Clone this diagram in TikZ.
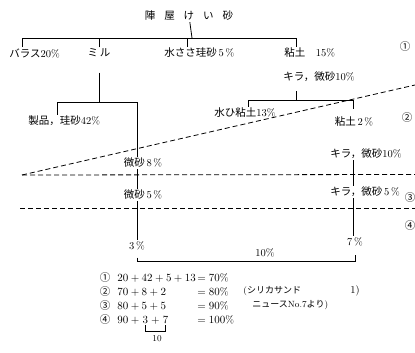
\documentclass[tikz,border=0pt]{standalone}
\usepackage{fontspec}
\usepackage{tikz}
\usetikzlibrary{positioning}
\newfontfamily\jp{Noto Sans CJK JP}

\begin{document}
\begin{tikzpicture}[x=1pt,y=-1pt,line width=0.8pt,
          lbl/.style={inner sep=1pt,font=\fontsize{10.5}{12}\selectfont},
          eq/.style={inner sep=0pt,font=\fontsize{10.5}{12}\selectfont},
          note/.style={inner sep=0pt,align=left,font=\fontsize{9}{14}\selectfont},
          cut/.style={line width=0.8pt,dash pattern=on 5pt off 3pt}]
        \useasboundingbox (0,0) rectangle (415,353);
        \node[lbl](ttl) at (189,16)
          {{\jp 陣\hspace{9pt}屋\hspace{9pt}け\hspace{9pt}い\hspace{9pt}砂}};
        \node[lbl,anchor=west](bal) at (8,53) {{\jp バラス}20\%};
        \node[lbl](mil) at (99,53) {{\jp ミ\,ル}};
        \node[lbl,anchor=west](sui) at (163,53) {{\jp 水ささ珪砂}\,5\,\%};
        \node[lbl,anchor=west](nen) at (283,53) {{\jp 粘土}\quad 15\%};
        \coordinate(t0) at (192,38);
        \coordinate(tl) at (22,38);
        \coordinate(t3) at (187,38);
        \coordinate(tr) at (296,38);
        \draw(ttl)--(t0);
        \draw(bal.north-|tl)--(tl)--(tr)--(nen.north-|tr);
        \draw(mil.north)--(mil.north|-t0);
        \draw(t3)--(sui.north-|t3);
        % mill branch
        \node[lbl,anchor=west](sei) at (27,121) {{\jp 製品，珪砂}42\%};
        \node[lbl](b8) at (143,163) {{\jp 微砂}\,8\,\%};
        \node[lbl](b5) at (143,195) {{\jp 微砂}\,5\,\%};
        \node[lbl](p3) at (137,246) {3\,\%};
        \coordinate(m0) at (99,102);
        \coordinate(ml) at (57,102);
        \coordinate(mr) at (137,102);
        \draw[shorten <=14pt](mil.south)--(m0);
        \draw(sei.north-|ml)--(ml)--(mr)--(b8.north-|mr);
        \draw(b8.south-|mr)--(b5.north-|mr);
        \draw(b5.south-|mr)--(p3.north-|mr);
        % clay branch
        \node[lbl,anchor=west](kr) at (282,77) {{\jp キラ，微砂}10\%};
        \node[lbl,anchor=west](sh) at (213,113) {{\jp 水ひ粘土}13\%};
        \node[lbl](n2) at (354,122) {{\jp 粘土}\,2\,\%};
        \node[lbl,anchor=west](k10) at (329,154) {{\jp キラ，微砂}10\%};
        \node[lbl,anchor=west](k5) at (329,192) {{\jp キラ，微砂}\,5\,\%};
        \node[lbl](p7) at (355,242) {7\,\%};
        \coordinate(r0) at (296,100);
        \coordinate(rl) at (248,100);
        \coordinate(rr) at (353,100);
        \draw[shorten <=8pt](kr.south-|r0)--(r0);
        \draw[shorten >=7pt](sh.north-|rl)--(rl)--(rr)--(n2.north-|rr);
        \draw(k10.south-|rr)--(k5.north-|rr);
        \draw(k5.south-|rr)--(p7.north-|rr);
        \coordinate(q1) at (137,261);
        \coordinate(q2) at (355,261);
        \draw[shorten <=6pt,shorten >=7pt](p3.south-|q1)--(q1)--(q2)--(p7.south-|q2);
        \node[lbl](s10) at (265,253) {10\%};
        % stage lines
        \coordinate(d0) at (22,175);
        \coordinate(d1) at (415,85);
        \coordinate(d2) at (415,174.5);
        \coordinate(d3) at (20,208.5);
        \coordinate(d4) at (415,208.5);
        \draw[cut](d0)--(d1);
        \draw[cut](d0)--(d2);
        \draw[cut](d3)--(d4);
        \node[lbl](c1) at (405,47) {{\jp ①}};
        \node[lbl](c2) at (407,118) {{\jp ②}};
        \node[lbl](c3) at (410,198) {{\jp ③}};
        \node[lbl](c4) at (410,226) {{\jp ④}};
        % sums
        \node[lbl](e1) at (105,278) {{\jp ①}};
        \node[lbl](e2) at (105,292) {{\jp ②}};
        \node[lbl](e3) at (105,306) {{\jp ③}};
        \node[lbl](e4) at (105,320) {{\jp ④}};
        \node[eq,anchor=west](e1a) at (117,278) {$20+42+5+13$};
        \node[eq,anchor=west](e2a) at (117,292) {$70+8+2$};
        \node[eq,anchor=west](e3a) at (117,306) {$80+5+5$};
        \node[eq,anchor=west](e4a) at (117,320) {$90+{}$};
        \node[eq,anchor=base west](e4b) at (e4a.base east) {$3$};
        \node[eq,anchor=base west](e4c) at (e4b.base east) {${}+{}$};
        \node[eq,anchor=base west](e4d) at (e4c.base east) {$7$};
        \node[eq,anchor=west](e1b) at (197,278) {$=70\%$};
        \node[eq,anchor=west](e2b) at (197,292) {$=80\%$};
        \node[eq,anchor=west](e3b) at (197,306) {$=90\%$};
        \node[eq,anchor=west](e4b2) at (197,320) {$=100\%$};
        \draw([yshift=-2pt]e4b.south)--([yshift=-8pt]e4b.south)
          --([yshift=-8pt]e4b.south-|e4d.south)--([yshift=-2pt]e4d.south);
        \node[lbl,font=\fontsize{9}{10}\selectfont](t10) at (157,339) {10};
        \node[note,anchor=west](src) at (243,298)
          {({\jp シリカサンド}\\\hspace{9pt}{\jp ニュース}No.7{\jp より})};
        \node[lbl](ref) at (355,291) {1)};
      \end{tikzpicture}
\end{document}
